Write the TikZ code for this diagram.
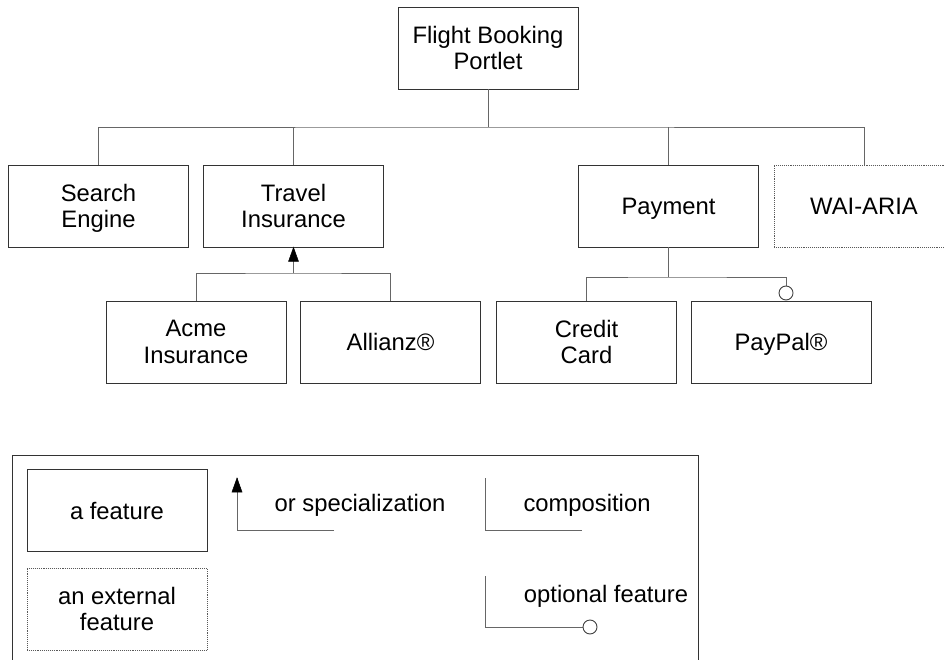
\documentclass[tikz,border=0pt]{standalone}
\usepackage{fontspec}
\setmainfont{Liberation Sans}
\tikzset{
  feat/.style={draw=black!80, line width=0.9pt, minimum width=180pt, minimum height=82pt,
    inner sep=0pt, align=center, text depth=-1pt, font=\fontsize{23.8}{26.5}\selectfont},
  extfeat/.style={feat, draw=black!65, densely dotted},
  link/.style={draw=black!60, line width=0.9pt},
  tipfill/.style={fill=black, draw=black, line width=0.5pt, line join=miter},
  opt/.style={draw=black!75, line width=0.9pt, fill=white},
  lbl/.style={font=\fontsize{23.8}{26.5}\selectfont, inner sep=0pt}
}
% filled triangular head pointing up, its apex at the given point
\newcommand{\uphead}[1]{\filldraw[tipfill] (#1) -- ++(-5,14) -- ++(10,0) -- cycle;}
\begin{document}
\begin{tikzpicture}[x=1pt,y=-1pt]
\useasboundingbox (0,0) rectangle (944,660);

% feature tree
\node[feat] (root) at (488,48) {Flight Booking\\Portlet};
\node[feat] (search) at (98.5,206) {Search\\Engine};
\node[feat] (travel) at (293.5,206) {Travel\\Insurance};
\node[feat] (pay) at (668.5,206) {Payment};
\node[extfeat] (wai) at (864,206.5) {WAI-ARIA};
\node[feat] (acme) at (196,342) {Acme\\Insurance};
\node[feat] (allianz) at (390.5,342) {Allianz®};
\node[feat] (credit) at (586.5,342) {Credit\\Card};
\node[feat] (paypal) at (781,342) {PayPal®};

% composition of the root
\coordinate (rj) at (488,127);
\draw[link] (root.south) -- (rj);
\draw[link] (search.north) |- (rj) -| (wai.north);
\draw[link] (travel.north) -- (travel.north |- rj);
\draw[link] (pay.north) -- (pay.north |- rj);

% specialization of travel insurance
\coordinate (tj) at (293.5,273);
\draw[link] (tj) -- (travel.south);
\uphead{travel.south}
\draw[link] (acme.north) |- (tj) -| (allianz.north);

% payment options
\coordinate (pj) at (668.5,277);
\coordinate (pp) at (786,293);
\draw[link] (pay.south) -- (pj);
\draw[link] (credit.north) |- (pj) -| (pp);
\node[opt, circle, minimum size=14pt, inner sep=0pt] (ppc) at (pp) {};

% legend
\draw[draw=black!80, line width=0.9pt] (12,662) -- (12,455) -- (698,455) -- (698,662);
\node[feat] (lfeat) at (117,510.5) {a feature};
\node[extfeat] (lext) at (117,609) {an external\\feature};

\coordinate (sa) at (237,530);
\coordinate (sb) at (334,530);
\coordinate (st) at (237,478);
\draw[link] (sb) -- (sa) -- (st);
\uphead{st}
\node[lbl] (lspec) at (360,505) {or specialization};

\coordinate (ca) at (485,478);
\coordinate (cb) at (485,530);
\coordinate (cc) at (582,530);
\draw[link] (ca) -- (cb) -- (cc);
\node[lbl] (lcomp) at (587,505) {composition};

\coordinate (oa) at (485,576);
\coordinate (ob) at (485,627);
\coordinate (oc) at (583,627);
\draw[link] (oa) -- (ob) -- (oc);
\node[opt, circle, minimum size=14pt, inner sep=0pt] (oci) at (590,627) {};
\node[lbl] (lopt) at (606,596) {optional feature};
\end{tikzpicture}
\end{document}
